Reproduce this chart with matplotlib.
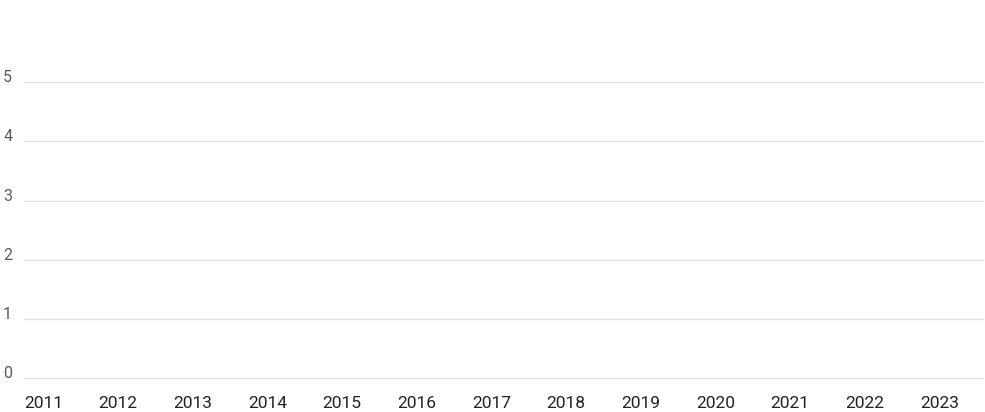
import matplotlib
matplotlib.use("Agg")
import matplotlib.pyplot as plt

years = ["2011", "2012", "2013", "2014", "2015", "2016", "2017",
         "2018", "2019", "2020", "2021", "2022", "2023"]
y_ticks = [0, 1, 2, 3, 4, 5]
values = [None] * len(years)  # no data shown in the chart

W, H = 985, 412
fig = plt.figure(figsize=(W / 100, H / 100), dpi=100)
ax = fig.add_axes([24 / W, 34 / H, (983 - 24) / W, (378 - 23) / H])

x = list(range(len(years)))
ax.plot(x, [float("nan") if v is None else v for v in values])

ax.set_xlim(0, (983 - 24) / 74.67)
ax.set_ylim(0, 6)

ax.set_yticks(y_ticks)
ax.set_yticklabels([str(v) for v in y_ticks])
ax.set_xticks(x)
ax.set_xticklabels(years)

ax.grid(axis="y", color="#e3e3e3", linewidth=1)
for gl in ax.get_ygridlines():
    gl.set_clip_on(False)
ax.set_axisbelow(True)
for s in ax.spines.values():
    s.set_visible(False)

ax.tick_params(axis="both", length=0)
ax.tick_params(axis="x", pad=13, labelsize=12.5, labelcolor="#222222")
ax.tick_params(axis="y", pad=15, labelsize=11.5, labelcolor="#5a5a5a")
for lab in ax.get_xticklabels():
    lab.set_ha("left")
    lab.set_family("Roboto")
for lab in ax.get_yticklabels():
    lab.set_ha("left")
    lab.set_va("baseline")
    lab.set_family("Roboto")
    lab.set_fontweight("normal")

fig.savefig("out.png", dpi=100)
